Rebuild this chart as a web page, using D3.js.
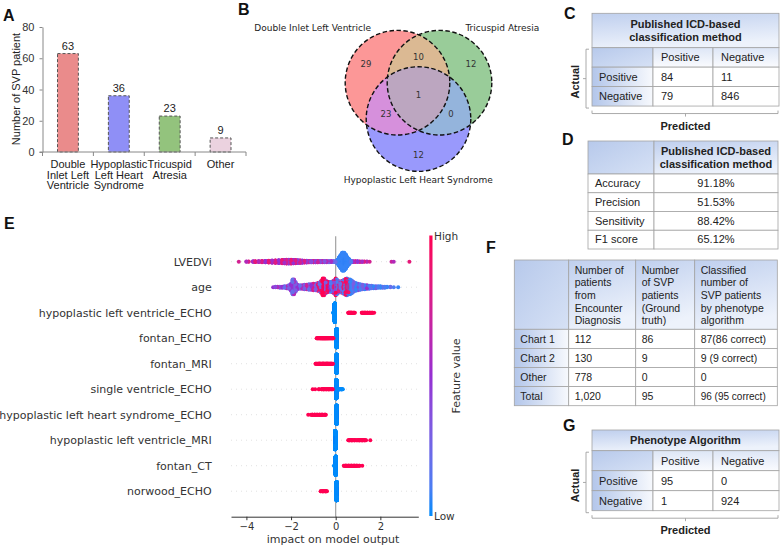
<!DOCTYPE html>
<html><head><meta charset="utf-8">
<script src="https://cdn.jsdelivr.net/npm/d3@7"></script>
<style>html,body{margin:0;padding:0;background:#fff;}svg{display:block;}</style>
</head><body>
<svg id="fig" width="780" height="548" xmlns="http://www.w3.org/2000/svg"></svg>
<script>
// ================= DATA =================
// Panel A
const barCategories = ["Double Inlet Left Ventricle", "Hypoplastic Left Heart Syndrome", "Tricuspid Atresia", "Other"];
const barLabelLines = [["Double", "Inlet Left", "Ventricle"], ["Hypoplastic", "Left Heart", "Syndrome"], ["Tricuspid", "Atresia"], ["Other"]];
const barValues = [63, 36, 23, 9];
const barColors = ["#ea8b8b", "#8f8ff6", "#93c37d", "#ebd2df"];
const yTicksA = [0, 20, 40, 60, 80];
const yTitleA = "Number of SVP patient";

// Panel B (Venn)  set order: DILV, TA, HLHS
const vennSetNames = ["Double Inlet Left Ventricle", "Tricuspid Atresia", "Hypoplastic Left Heart Syndrome"];
const vennRegions = ["100", "010", "001", "110", "101", "011", "111"];
const vennValues = [29, 12, 12, 10, 23, 0, 1];

// Panel C / G confusion matrices
const icdTitle = ["Published ICD-based", "classification method"];
const predLabels = ["Positive", "Negative"];
const actualLabels = ["Positive", "Negative"];
const icdMatrix = [[84, 11], [79, 846]];
const phenoTitle = ["Phenotype Algorithm"];
const phenoMatrix = [[95, 0], [1, 924]];

// Panel D
const metricNames = ["Accuracy", "Precision", "Sensitivity", "F1 score"];
const icdMetrics = ["91.18%", "51.53%", "88.42%", "65.12%"];

// Panel F
const chartRowNames = ["Chart 1", "Chart 2", "Other", "Total"];
const chartColHeads = [
  ["Number of", "patients", "from", "Encounter", "Diagnosis"],
  ["Number", "of SVP", "patients", "(Ground", "truth)"],
  ["Classified", "number of", "SVP patients", "by phenotype", "algorithm"]];
const encounterCounts = ["112", "130", "778", "1,020"];
const groundTruthCounts = ["86", "9", "0", "95"];
const classifiedCounts = ["87(86 correct)", "9 (9 correct)", "0", "96 (95 correct)"];

// Panel E (SHAP beeswarm): [shap value, feature value 0..1, number of patients]
const shapFeatures = ["LVEDVi", "age", "hypoplastic left ventricle_ECHO", "fontan_ECHO", "fontan_MRI",
  "single ventricle_ECHO", "hypoplastic left heart syndrome_ECHO", "hypoplastic left ventricle_MRI", "fontan_CT", "norwood_ECHO"];
const shapTicks = [-4, -2, 0, 2];
const shapLVEDVi = [
  [-4.34,0.75,1],[-4.0,0.6,2],[-3.9,0.8,2],[-3.7,0.55,4],[-3.6,0.85,5],[-3.45,0.6,6],[-3.3,0.8,8],[-3.15,0.5,10],
  [-3.0,0.85,12],[-2.85,0.55,14],[-2.7,0.8,16],[-2.55,0.5,18],[-2.4,0.85,20],[-2.3,0.55,22],[-2.2,0.75,24],[-2.1,0.45,24],
  [-2.0,0.85,24],[-1.9,0.5,22],[-1.8,0.8,20],[-1.7,0.45,18],[-1.6,0.75,16],[-1.5,0.5,14],[-1.4,0.8,12],[-1.3,0.45,12],
  [-1.2,0.7,10],[-1.1,0.4,10],[-1.0,0.75,10],[-0.9,0.45,9],[-0.8,0.7,9],[-0.7,0.4,8],[-0.6,0.65,8],[-0.5,0.35,8],
  [-0.4,0.6,7],[-0.3,0.3,7],[-0.2,0.55,6],[-0.1,0.25,6],[0.0,0.2,6],
  [0.08,0.05,25],[0.15,0.05,50],[0.22,0.05,80],[0.3,0.05,110],[0.37,0.05,110],[0.44,0.05,90],[0.52,0.05,55],[0.6,0.05,30],[0.68,0.1,12],
  [0.78,0.55,5],[0.88,0.75,4],[0.98,0.5,4],[1.08,0.8,3],[1.18,0.55,3],[1.28,0.8,2],[1.4,0.6,2],[1.52,0.75,1],[2.5,0.7,1],[2.6,0.6,1],[3.3,0.85,1]];
const shapAge = [
  [-2.8,0.5,1],[-2.7,0.4,2],[-2.6,0.6,2],[-2.5,0.3,3],[-2.4,0.5,3],[-2.3,0.2,4],[-2.2,0.6,5],[-2.1,0.3,8],[-2.0,0.5,15],
  [-1.93,0.2,30],[-1.87,0.6,30],[-1.8,0.3,20],[-1.72,0.5,10],[-1.6,0.2,8],[-1.5,0.6,8],[-1.4,0.3,10],[-1.3,0.7,10],
  [-1.2,0.2,12],[-1.1,0.5,12],[-1.0,0.8,14],[-0.9,0.3,14],[-0.8,0.9,16],[-0.72,0.2,18],[-0.65,0.95,24],[-0.58,1,34],
  [-0.52,0.9,34],[-0.45,0.3,26],[-0.38,0.95,22],[-0.3,0.5,20],[-0.22,0.1,20],[-0.15,0.9,22],[-0.08,0.4,26],[0.0,1,34],
  [0.05,0.1,30],[0.12,0.8,24],[0.2,0.2,22],[0.28,0.9,24],[0.36,0.1,28],[0.44,0.95,32],[0.5,0.05,34],[0.57,0.9,30],
  [0.64,0.05,30],[0.72,0.1,26],[0.8,0.3,20],[0.9,0.05,16],[1.0,0.4,14],[1.1,0.1,12],[1.2,0.3,10],[1.3,0.05,9],
  [1.4,0.5,8],[1.5,0.1,7],[1.6,0.2,6],[1.7,0.05,5],[1.8,0.3,5],[1.9,0.1,4],[2.0,0.05,4],[2.1,0.2,3],[2.2,0.1,3],
  [2.3,0.05,2],[2.45,0.2,2],[2.6,0.1,1],[2.8,0.05,1]];
const shapHypoLVEcho = [[-0.1,0,5],[-0.04,0,950],[0.57,1,3],[0.62,1,3],[0.67,1,3],[0.72,1,3],[0.78,1,3],[0.85,1,2],
  [1.17,1,2],[1.22,1,3],[1.28,1,3],[1.35,1,3],[1.42,1,3],[1.5,1,3],[1.58,1,3],[1.65,1,2],[1.72,1,1]];
const shapFontanEcho = [[-0.85,1,2],[-0.8,1,3],[-0.75,1,3],[-0.7,1,4],[-0.65,1,4],[-0.6,1,4],[-0.55,1,4],[-0.5,1,4],
  [-0.45,1,4],[-0.4,1,4],[-0.35,1,4],[-0.3,1,4],[-0.25,1,3],[-0.2,1,3],[-0.15,1,3],[-0.1,1,2],[0.04,0,960]];
const shapFontanMRI = [[-0.9,1,2],[-0.84,1,3],[-0.78,1,3],[-0.72,1,4],[-0.66,1,4],[-0.6,1,4],[-0.54,1,4],[-0.48,1,4],
  [-0.42,1,4],[-0.36,1,4],[-0.3,1,4],[-0.24,1,3],[-0.18,1,3],[-0.12,1,2],[0.04,0,960]];
const shapSingleVEcho = [[-1.03,1,1],[-0.92,1,1],[-0.75,1,2],[-0.62,1,3],[-0.55,1,3],[-0.48,1,3],[-0.4,1,3],[-0.33,1,3],
  [-0.26,1,3],[-0.19,1,2],[-0.13,1,2],[0.03,0,920],[0.1,0,10],[0.18,0,6],[0.25,0,4],[0.31,0,2]];
const shapHLHSEcho = [[-1.23,1,1],[-1.1,1,2],[-1.03,1,3],[-0.95,1,3],[-0.88,1,3],[-0.8,1,3],[-0.72,1,3],[-0.65,1,3],
  [-0.58,1,3],[-0.5,1,2],[-0.45,1,2],[0.04,0,960]];
const shapHypoLVMRI = [[-0.02,0,965],[0.57,1,2],[0.63,1,3],[0.7,1,3],[0.77,1,3],[0.85,1,3],[0.92,1,2],[1.0,1,3],
  [1.07,1,3],[1.14,1,3],[1.21,1,3],[1.28,1,3],[1.35,1,2],[1.55,1,1]];
const shapFontanCT = [[-0.06,0,4],[0.0,0,960],[0.37,1,2],[0.43,1,3],[0.5,1,3],[0.57,1,3],[0.64,1,3],[0.71,1,3],
  [0.78,1,3],[0.85,1,3],[0.92,1,3],[0.99,1,2],[1.06,1,2],[1.19,1,1]];
const shapNorwoodEcho = [[-0.67,1,2],[-0.6,1,3],[-0.53,1,3],[-0.46,1,3],[-0.4,1,2],[0.04,0,1000]];
const shapRows = [shapLVEDVi, shapAge, shapHypoLVEcho, shapFontanEcho, shapFontanMRI, shapSingleVEcho,
  shapHLHSEcho, shapHypoLVMRI, shapFontanCT, shapNorwoodEcho];

// ================= DRAWING =================
const ARIAL = "'Liberation Sans', Arial, sans-serif";
const DEJAVU = "'DejaVu Sans', sans-serif";
const svg = d3.select("#fig");
svg.append("rect").attr("width", 780).attr("height", 548).attr("fill", "#fff");
const defs = svg.append("defs");
function linGrad(id, x1, y1, x2, y2, stops) {
  const g = defs.append("linearGradient").attr("id", id)
    .attr("x1", x1).attr("y1", y1).attr("x2", x2).attr("y2", y2);
  stops.forEach(s => g.append("stop").attr("offset", s[0]).attr("stop-color", s[1]));
}
linGrad("gHdr", 0, 0, 0.3, 1, [[0, "#bfcfee"], [1, "#edf2fb"]]);
linGrad("gCorner", 0, 0, 1, 1, [[0, "#b7c9eb"], [1, "#d6e1f5"]]);
linGrad("gCol", 0, 0, 0, 1, [[0, "#dde6f6"], [1, "#fafbfe"]]);
linGrad("gRow", 0, 0, 1, 0, [[0, "#b3c6ea"], [1, "#f7f9fd"]]);

function panelLetter(t, x, y) {
  svg.append("text").attr("x", x).attr("y", y).text(t)
    .attr("font-family", ARIAL).attr("font-weight", "bold").attr("font-size", 16).attr("fill", "#111");
}

// ---------- Panel A ----------
(function () {
  const g = svg.append("g").attr("font-family", ARIAL);
  const x = d3.scaleBand().domain(barCategories).range([42.5, 246]).paddingInner(0.59).paddingOuter(0.295);
  const y = d3.scaleLinear().domain([0, 80]).range([152, 27]);
  g.selectAll("rect.bar").data(barCategories).join("rect").attr("class", "bar")
    .attr("x", d => x(d)).attr("width", x.bandwidth())
    .attr("y", (d, i) => y(barValues[i])).attr("height", (d, i) => y(0) - y(barValues[i]))
    .attr("fill", (d, i) => barColors[i]).attr("stroke", "#555").attr("stroke-width", 1)
    .attr("stroke-dasharray", "3,2");
  g.selectAll("text.val").data(barCategories).join("text").attr("class", "val")
    .attr("x", d => x(d) + x.bandwidth() / 2).attr("y", (d, i) => y(barValues[i]) - 4)
    .attr("text-anchor", "middle").attr("font-size", 11).attr("fill", "#222")
    .text((d, i) => barValues[i]);
  const ax = g.append("g").attr("transform", "translate(42.5,0)")
    .call(d3.axisLeft(y).tickValues(yTicksA).tickSize(3).tickPadding(5).tickSizeOuter(0));
  ax.select(".domain").attr("stroke", "#888");
  ax.selectAll(".tick line").attr("stroke", "#888");
  ax.selectAll(".tick text").attr("font-size", 11).attr("fill", "#333").attr("font-family", ARIAL);
  g.append("line").attr("x1", 39.5).attr("x2", 246).attr("y1", y(0)).attr("y2", y(0)).attr("stroke", "#888");
  const left = x(barCategories[0]) - x.step() * x.paddingInner() / 2;
  d3.range(barCategories.length + 1).forEach(i => {
    const xx = left + i * x.step();
    g.append("line").attr("x1", xx).attr("x2", xx).attr("y1", y(0)).attr("y2", y(0) + 4).attr("stroke", "#888");
  });
  barCategories.forEach((c, i) => {
    const t = g.append("text").attr("x", x(c) + x.bandwidth() / 2).attr("y", 168)
      .attr("text-anchor", "middle").attr("font-size", 11).attr("fill", "#222");
    barLabelLines[i].forEach((l, j) => t.append("tspan").attr("x", x(c) + x.bandwidth() / 2).attr("dy", j ? 10.6 : 0).text(l));
  });
  g.append("text").attr("transform", "translate(19.5,89) rotate(-90)").attr("text-anchor", "middle")
    .attr("font-size", 11).attr("fill", "#222").text(yTitleA);
})();
panelLetter("A", 3, 21);

// ---------- Panel B ----------
(function () {
  const g = svg.append("g").attr("font-family", DEJAVU);
  const O = [418.5, 94.8], cr = 24.25, R = 52.3;
  const ang = [210, 330, 90].map(a => a * Math.PI / 180);
  const C = ang.map(a => [O[0] + cr * Math.cos(a), O[1] + cr * Math.sin(a)]);
  const setCol = ["#fc9797", "#99cc99", "#9999fc"];
  const mix = { "110": "#dbb993", "101": "#d690dc", "011": "#94b4dc", "111": "#bca6c0" };
  C.forEach((c, i) => defs.append("clipPath").attr("id", "vc" + i).append("circle").attr("cx", c[0]).attr("cy", c[1]).attr("r", R));
  C.forEach((c, i) => g.append("circle").attr("cx", c[0]).attr("cy", c[1]).attr("r", R).attr("fill", setCol[i]));
  const pairs = [["110", 0, 1], ["101", 0, 2], ["011", 1, 2]];
  pairs.forEach(p => g.append("g").attr("clip-path", `url(#vc${p[1]})`).append("circle")
    .attr("cx", C[p[2]][0]).attr("cy", C[p[2]][1]).attr("r", R).attr("fill", mix[p[0]]));
  g.append("g").attr("clip-path", "url(#vc0)").append("g").attr("clip-path", "url(#vc1)").append("circle")
    .attr("cx", C[2][0]).attr("cy", C[2][1]).attr("r", R).attr("fill", mix["111"]);
  C.forEach(c => g.append("circle").attr("cx", c[0]).attr("cy", c[1]).attr("r", R).attr("fill", "none")
    .attr("stroke", "#111").attr("stroke-width", 1.4).attr("stroke-dasharray", "4.5,2.5"));
  vennRegions.forEach((reg, k) => {
    const members = reg.split("").map((b, i) => b === "1" ? i : -1).filter(i => i >= 0);
    let px, py;
    if (members.length === 3) { px = O[0]; py = O[1]; }
    else {
      const m = [d3.mean(members, i => C[i][0]), d3.mean(members, i => C[i][1])];
      const kf = members.length === 1 ? 2.5 : 3.1;
      px = O[0] + (m[0] - O[0]) * kf; py = O[1] + (m[1] - O[1]) * kf;
    }
    g.append("text").attr("x", px).attr("y", py).attr("dy", "0.35em").attr("text-anchor", "middle")
      .attr("font-size", 8.5).attr("fill", "#333").text(vennValues[k]);
  });
  const namePos = [[312.7, 27.7], [502.3, 27.7], [418.3, 180]];
  vennSetNames.forEach((n, i) => g.append("text").attr("x", namePos[i][0]).attr("y", namePos[i][1]).attr("dy", "0.35em")
    .attr("text-anchor", "middle").attr("font-size", 9).attr("fill", "#222").text(n));
})();
panelLetter("B", 238, 15);

// ---------- Table helpers ----------
function cellRect(g, x0, y0, x1, y1, fill) {
  g.append("rect").attr("x", x0).attr("y", y0).attr("width", x1 - x0).attr("height", y1 - y0)
    .attr("fill", fill).attr("stroke", "#a3a3a3").attr("stroke-width", 0.8);
}
function cellText(g, x, y, lines, opt) {
  opt = opt || {};
  const t = g.append("text").attr("x", x).attr("y", y).attr("font-family", ARIAL)
    .attr("font-size", opt.size || 11).attr("font-weight", opt.bold ? "bold" : "normal")
    .attr("text-anchor", opt.anchor || "start").attr("fill", "#222");
  lines.forEach((l, j) => t.append("tspan").attr("x", x).attr("dy", j ? (opt.lh || 12.4) : "0.35em").text(l));
}

// ---------- Confusion matrix (C and G) ----------
function confusion(title, matrix, top, hdrH, rowH) {
  const g = svg.append("g");
  const colX = [592, 653, 713, 779];
  const rowY = d3.scaleLinear().domain([0, 3]).range([top + hdrH, top + hdrH + 3 * rowH]);
  cellRect(g, colX[0], top, colX[3], top + hdrH, "url(#gHdr)");
  cellText(g, (colX[0] + colX[3]) / 2, top + hdrH / 2 - (title.length - 1) * 6.2, title, { bold: true, anchor: "middle" });
  cellRect(g, colX[0], rowY(0), colX[1], rowY(1), "url(#gCorner)");
  predLabels.forEach((p, j) => {
    cellRect(g, colX[j + 1], rowY(0), colX[j + 2], rowY(1), "url(#gCol)");
    cellText(g, colX[j + 1] + 8, (rowY(0) + rowY(1)) / 2, [p]);
  });
  actualLabels.forEach((a, i) => {
    cellRect(g, colX[0], rowY(i + 1), colX[1], rowY(i + 2), "url(#gRow)");
    cellText(g, colX[0] + 7, (rowY(i + 1) + rowY(i + 2)) / 2, [a]);
    matrix[i].forEach((v, j) => {
      cellRect(g, colX[j + 1], rowY(i + 1), colX[j + 2], rowY(i + 2), "#fff");
      cellText(g, colX[j + 1] + 8, (rowY(i + 1) + rowY(i + 2)) / 2, [String(v)]);
    });
  });
  const bot = rowY(3), bx = 586, by0 = rowY(0) + 1.5, by1 = bot + 2;
  const st = "#a0a0a0";
  const path = d3.path();
  path.moveTo(bx + 3, by0); path.lineTo(bx, by0); path.lineTo(bx, by1); path.lineTo(bx + 3, by1);
  path.moveTo(bx, (by0 + by1) / 2); path.lineTo(bx - 3, (by0 + by1) / 2);
  const hy = bot + 7.5, cx = (colX[0] + colX[3]) / 2;
  path.moveTo(colX[0], hy - 3); path.lineTo(colX[0], hy); path.lineTo(colX[3] - 1, hy); path.lineTo(colX[3] - 1, hy - 3);
  path.moveTo(cx, hy); path.lineTo(cx, hy + 3);
  g.append("path").attr("d", path.toString()).attr("fill", "none").attr("stroke", st).attr("stroke-width", 0.9);
  g.append("text").attr("transform", `translate(579,${(by0 + by1) / 2 + 3}) rotate(-90)`).attr("text-anchor", "middle")
    .attr("font-family", ARIAL).attr("font-weight", "bold").attr("font-size", 11).attr("fill", "#222").text("Actual");
  g.append("text").attr("x", cx).attr("y", bot + 23.5).attr("text-anchor", "middle")
    .attr("font-family", ARIAL).attr("font-weight", "bold").attr("font-size", 11).attr("fill", "#222").text("Predicted");
}
confusion(icdTitle, icdMatrix, 13.3, 34.4, 19.45);
panelLetter("C", 564, 18.5);
confusion(phenoTitle, phenoMatrix, 430, 20.7, 20);
panelLetter("G", 563, 430.5);

// ---------- Panel D ----------
(function () {
  const g = svg.append("g");
  const colX = [588, 654, 778];
  const top = 141, hdrBot = 174;
  const rowY = d3.scaleLinear().domain([0, metricNames.length]).range([hdrBot, 249]);
  cellRect(g, colX[0], top, colX[1], hdrBot, "url(#gCorner)");
  cellRect(g, colX[1], top, colX[2], hdrBot, "url(#gHdr)");
  cellText(g, (colX[1] + colX[2]) / 2, (top + hdrBot) / 2 - 6.2, icdTitle, { bold: true, anchor: "middle" });
  metricNames.forEach((m, i) => {
    cellRect(g, colX[0], rowY(i), colX[1], rowY(i + 1), "#fff");
    cellRect(g, colX[1], rowY(i), colX[2], rowY(i + 1), "#fff");
    cellText(g, colX[0] + 7, (rowY(i) + rowY(i + 1)) / 2, [m]);
    cellText(g, (colX[1] + colX[2]) / 2, (rowY(i) + rowY(i + 1)) / 2, [icdMetrics[i]], { anchor: "middle" });
  });
})();
panelLetter("D", 562, 145);

// ---------- Panel F ----------
(function () {
  const g = svg.append("g");
  const colX = [514.3, 568.7, 635.7, 694.7, 777.3];
  const top = 260, hdrBot = 329.3;
  const rowY = d3.scaleLinear().domain([0, chartRowNames.length]).range([hdrBot, 405.7]);
  cellRect(g, colX[0], top, colX[1], hdrBot, "url(#gCorner)");
  chartColHeads.forEach((h, j) => {
    cellRect(g, colX[j + 1], top, colX[j + 2], hdrBot, "url(#gHdr)");
    cellText(g, colX[j + 1] + 6, 270, h, { size: 10.5, lh: 12.7 });
  });
  const cols = [encounterCounts, groundTruthCounts, classifiedCounts];
  chartRowNames.forEach((r, i) => {
    const cy = (rowY(i) + rowY(i + 1)) / 2;
    cellRect(g, colX[0], rowY(i), colX[1], rowY(i + 1), "url(#gRow)");
    cellText(g, colX[0] + 6, cy, [r], { size: 10.5 });
    cols.forEach((c, j) => {
      cellRect(g, colX[j + 1], rowY(i), colX[j + 2], rowY(i + 1), "#fff");
      cellText(g, colX[j + 1] + 6, cy, [c[i]], { size: (j === 2 && i === 3) ? 10 : 10.5 });
    });
  });
})();
panelLetter("F", 486, 253);

// ---------- Panel E (SHAP beeswarm) ----------
(function () {
  const g = svg.append("g").attr("font-family", DEJAVU);
  const x = d3.scaleLinear().domain([-4.69, 3.70]).range([231, 418.3]);
  const y = d3.scaleLinear().domain([0, 9]).range([261.7, 491.2]);
  const rowPx = y(1) - y(0);
  const cmap = d3.scaleLinear().domain([0, 0.5, 1]).range(["#008bfb", "#962fd2", "#ff0052"]).interpolate(d3.interpolateLab);
  shapFeatures.forEach((f, i) => g.append("line").attr("x1", 231).attr("x2", 418.3).attr("y1", y(i)).attr("y2", y(i))
    .attr("stroke", "#cccccc").attr("stroke-width", 0.6).attr("stroke-dasharray", "1,4"));
  g.append("line").attr("x1", x(0)).attr("x2", x(0)).attr("y1", y(-1)).attr("y2", y(10))
    .attr("stroke", "#999").attr("stroke-width", 1.1);
  const hash = i => (i * 2654435761) % 4294967296;
  shapRows.forEach((rows, ri) => {
    const pts = [];
    rows.forEach(r => { for (let k = 0; k < r[2]; k++) pts.push({ v: r[0], f: r[1] }); });
    const n = pts.length;
    const mn = d3.min(pts, p => p.v), mx = d3.max(pts, p => p.v);
    const q = pts.map(p => Math.round(100 * (p.v - mn) / (mx - mn + 1e-8)));
    const idx = d3.range(n).sort((a, b) => (q[a] - q[b]) || (hash(a) - hash(b)));
    let layer = 0, last = -1;
    const ys = new Array(n).fill(0);
    idx.forEach(i => {
      if (q[i] !== last) layer = 0;
      ys[i] = Math.ceil(layer / 2) * ((layer % 2) * 2 - 1);
      layer++; last = q[i];
    });
    const m = d3.max(ys, v => v + 1);
    const sc = 0.9 * (0.4 / m);
    pts.forEach((p, i) => { p.dy = ys[i] * sc * rowPx; p.k = hash(i + 7); });
    pts.sort((a, b) => a.k - b.k);
    g.append("g").selectAll("circle").data(pts).join("circle")
      .attr("cx", p => x(p.v)).attr("cy", p => y(ri) - p.dy).attr("r", 2)
      .attr("fill", p => cmap(p.f));
  });
  shapFeatures.forEach((f, i) => g.append("text").attr("x", 211.7).attr("y", y(i)).attr("dy", "0.35em")
    .attr("text-anchor", "end").attr("font-size", 11).attr("fill", "#333").text(f));
  const ax = g.append("g").attr("transform", `translate(0,${y(10)})`)
    .call(d3.axisBottom(x).tickValues(shapTicks).tickSize(3.5).tickPadding(3).tickSizeOuter(0)
      .tickFormat(d => d < 0 ? "\u2212" + Math.abs(d) : String(d)));
  ax.select(".domain").attr("stroke", "#333");
  ax.selectAll(".tick line").attr("stroke", "#333");
  ax.selectAll(".tick text").attr("font-size", 10).attr("fill", "#333").attr("font-family", DEJAVU);
  g.append("text").attr("x", 333).attr("y", 543).attr("text-anchor", "middle").attr("font-size", 11)
    .attr("fill", "#333").text("impact on model output");
  const cg = defs.append("linearGradient").attr("id", "gCbar").attr("x1", 0).attr("y1", 1).attr("x2", 0).attr("y2", 0);
  d3.range(0, 1.0001, 0.1).forEach(t => cg.append("stop").attr("offset", t).attr("stop-color", cmap(t)));
  g.append("rect").attr("x", 429.3).attr("y", 235.5).attr("width", 3.2).attr("height", 516 - 235.5).attr("fill", "url(#gCbar)");
  g.append("text").attr("x", 434).attr("y", 236).attr("dy", "0.35em").attr("font-size", 10.5).attr("fill", "#333").text("High");
  g.append("text").attr("x", 434).attr("y", 516.5).attr("dy", "0.35em").attr("font-size", 10.5).attr("fill", "#333").text("Low");
  g.append("text").attr("transform", "translate(456,376) rotate(-90)").attr("text-anchor", "middle").attr("dy", "0.35em")
    .attr("font-size", 11).attr("fill", "#333").text("Feature value");
})();
panelLetter("E", 4, 229);
</script>
</body></html>
